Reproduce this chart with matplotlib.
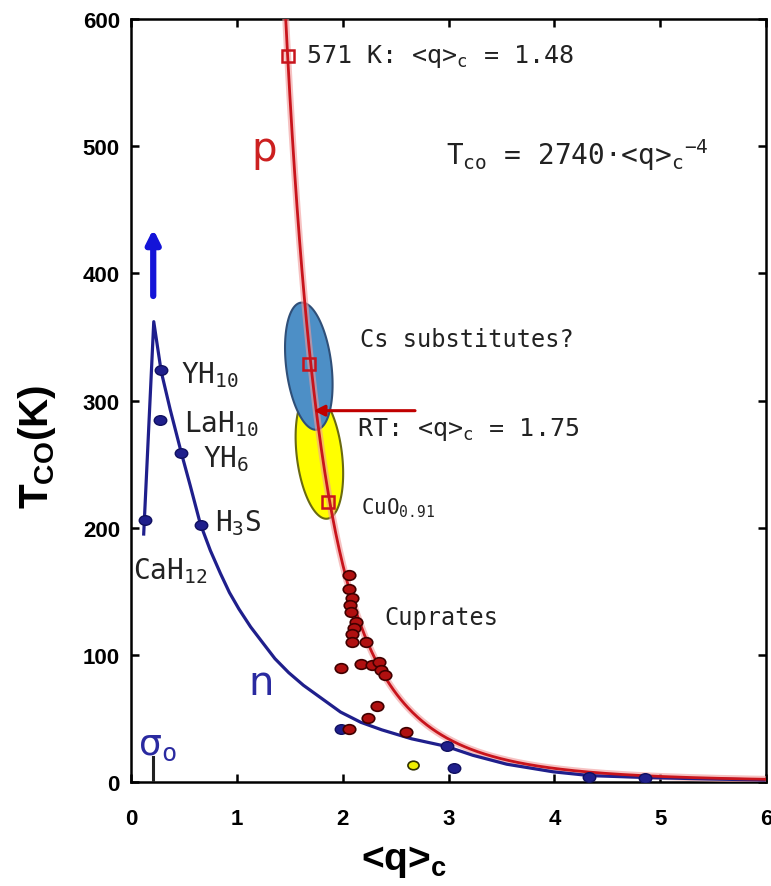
import numpy as np
import matplotlib
matplotlib.use('Agg')
from matplotlib import pyplot as plt
from matplotlib.path import Path

# --- data ---
# red p-type curve: T_co = 2740 * <q>^-4
p_coef = 2740
p_q_start, p_q_end = 1.455, 6.0

# blue n-type curve, traced points
n_q = [0.12, 0.215, 0.285, 0.37, 0.475, 0.56, 0.655, 0.75, 0.845, 0.93, 1.02, 1.13, 1.24,
       1.36, 1.49, 1.63, 1.78, 1.98, 2.17, 2.37, 2.65, 2.98, 3.23, 3.55, 3.99, 4.34,
       4.88, 5.45, 5.98]
n_T = [195, 362, 323, 293, 259, 233, 203, 182, 164, 149, 136, 122, 110,
       97, 86, 76, 67, 55, 47, 41, 34, 28, 21, 14, 8, 5,
       3.5, 2.4, 1.6]

# cuprates (red dots)
cup_q = [2.06, 2.06, 2.09, 2.07, 2.08, 2.13, 2.11, 2.09, 2.09, 2.22, 1.98, 2.17,
         2.28, 2.34, 2.36, 2.40, 2.32, 2.24, 2.06, 2.60]
cup_T = [163, 152, 145, 139, 134, 126, 121, 116, 110, 110, 90, 93,
         92, 94, 88, 84, 60, 50, 42, 39]

# hydrides and other n-type points (blue dots)
hyd_q = [0.13, 0.285, 0.275, 0.475, 0.665, 1.98, 2.99, 3.05, 4.33, 4.86]
hyd_T = [206, 324, 285, 259, 202, 42, 28, 11, 4, 3]

yel_q = [2.66]
yel_T = [13]

# open squares on the p curve
sq_q = [1.48, 1.68, 1.86]
sq_T = [571, 329, 220]

# ellipses: centre q, centre T, half width (q), half height (K), top lean (q)
ell_blue = [1.68, 327, 0.215, 50, -0.065]
ell_yel = [1.78, 257, 0.215, 50, -0.065]

# RT arrow
rt_T = 292
rt_q = [2.71, 1.70]

# hydride arrow
up_q = 0.21
up_T = [380, 437]

# labels
hyd_names = ['YH$_{10}$', 'LaH$_{10}$', 'YH$_6$', 'H$_3$S', 'CaH$_{12}$']
hyd_name_q = [0.47, 0.50, 0.68, 0.79, 0.02]
hyd_name_T = [321, 282, 255, 204, 167]

plt.rcParams['mathtext.fontset'] = 'custom'
plt.rcParams['mathtext.rm'] = 'DejaVu Sans Mono'
plt.rcParams['mathtext.it'] = 'DejaVu Sans Mono'
plt.rcParams['mathtext.bf'] = 'Liberation Sans:bold'
plt.rcParams['mathtext.sf'] = 'Liberation Sans:bold'

fig = plt.figure(figsize=(7.71, 8.87), dpi=100)
ax = fig.add_axes([131 / 771, 1 - 783 / 887, 635 / 771, 763 / 887])
ax.set_xlim(0, 6)
ax.set_ylim(0, 600)

mono = 'DejaVu Sans Mono'
txt_col = '#222222'
red = '#c8141c'
navy = '#1f1f8c'


def ellipse(e, n=200):
    t = np.linspace(0, 2 * np.pi, n)
    return e[0] + e[2] * np.cos(t) + e[4] * np.sin(t), e[1] + e[3] * np.sin(t)


# ellipses
xe, ye = ellipse(ell_yel)
ax.fill(xe, ye, facecolor='#ffff00', edgecolor='#6a6a10', lw=1.5, zorder=2)
xe, ye = ellipse(ell_blue)
ax.fill(xe, ye, facecolor='#4d8fc6', edgecolor='#2f4f78', lw=1.5, zorder=3)

# p curve
qq = np.linspace(p_q_start, p_q_end, 400)
ax.plot(qq, p_coef * qq ** -4, color='#f19a9a', lw=5, alpha=0.6, zorder=4)
ax.plot(qq, p_coef * qq ** -4, color=red, lw=2, zorder=5)

# n curve
ax.plot(n_q, n_T, color=navy, lw=2.3, zorder=4, solid_joinstyle='round')

# dot markers: slightly wide ellipses
circ = Path.unit_circle()
oval = Path(circ.vertices * [1.3, 1.0], circ.codes)

ax.plot(hyd_q, hyd_T, ls='none', marker=oval, ms=9, mfc=navy, mec='#101060', mew=1, zorder=6)
ax.plot(cup_q, cup_T, ls='none', marker=oval, ms=9, mfc='#b01010', mec='#400000', mew=1.2, zorder=6)
ax.plot(yel_q, yel_T, ls='none', marker=oval, ms=8, mfc='#f0f000', mec='#303000', mew=1.2, zorder=6)
ax.plot(sq_q, sq_T, ls='none', marker='s', ms=8, mfc='none', mec=red, mew=1.8, zorder=7)

# arrows
ax.annotate('', xy=(rt_q[1], rt_T), xytext=(rt_q[0], rt_T),
            arrowprops=dict(arrowstyle='-|>', color='#c00000', lw=2.2, mutation_scale=16), zorder=8)
ax.annotate('', xy=(up_q, up_T[1]), xytext=(up_q, up_T[0]),
            arrowprops=dict(arrowstyle='-|>', color='#1414d8', lw=4.5, mutation_scale=20), zorder=8)

# sigma_o marker
ax.plot([up_q, up_q], [0, 20], color='#222222', lw=2.2, zorder=5)

# texts
ax.text(1.65, 571, '571 K: <q>$_c$ = 1.48', family=mono, fontsize=18, color=txt_col,
        ha='left', va='center', zorder=9)
ax.text(2.98, 494, 'T$_{co}$ = 2740·<q>$_c$$^{-4}$', family=mono, fontsize=20, color=txt_col,
        ha='left', va='center', zorder=9)
ax.text(2.16, 348, 'Cs substitutes?', family=mono, fontsize=17, color=txt_col,
        ha='left', va='center', zorder=9)
ax.text(2.14, 278, 'RT: <q>$_c$ = 1.75', family=mono, fontsize=18, color=txt_col,
        ha='left', va='center', zorder=9)
ax.text(2.17, 216, 'CuO$_{0.91}$', family=mono, fontsize=15, color=txt_col,
        ha='left', va='center', zorder=9)
ax.text(2.39, 130, 'Cuprates', family=mono, fontsize=17, color=txt_col,
        ha='left', va='center', zorder=9)
for name, x, y in zip(hyd_names, hyd_name_q, hyd_name_T):
    ax.text(x, y, name, family=mono, fontsize=20, color=txt_col, ha='left', va='center', zorder=9)

ax.text(1.26, 498, 'p', family='DejaVu Sans', fontsize=29, color='#cc2020', ha='center', va='center')
ax.text(1.23, 78, 'n', family='DejaVu Sans', fontsize=29, color='#2a2aa0', ha='center', va='center')
ax.text(0.07, 29, 'σ$_o$', family='DejaVu Sans', fontsize=26, color='#2a2aa0', ha='left', va='center')

# axes styling
ax.set_xticks(range(0, 7))
ax.set_yticks(range(0, 601, 100))
ax.tick_params(direction='in', length=6, width=1.8, top=True, right=True,
               labelsize=16, pad=8)
ax.tick_params(axis='x', pad=19)
for lab in ax.get_xticklabels() + ax.get_yticklabels():
    lab.set_fontfamily('Liberation Sans')
    lab.set_fontweight('bold')
for s in ax.spines.values():
    s.set_linewidth(1.8)

ax.set_ylabel('T$_\\mathbf{CO}$(K)', fontfamily='Liberation Sans', fontweight='bold', fontsize=29)
ax.set_xlabel('<q>$_\\mathbf{c}$', fontfamily='Liberation Sans', fontweight='bold', fontsize=28)
ax.yaxis.set_label_coords(-0.148, 0.44)
ax.yaxis.label.set_va('center')
ax.xaxis.set_label_coords(0.43, -0.103)
ax.xaxis.label.set_va('center')

fig.savefig('out.png', dpi=100)
